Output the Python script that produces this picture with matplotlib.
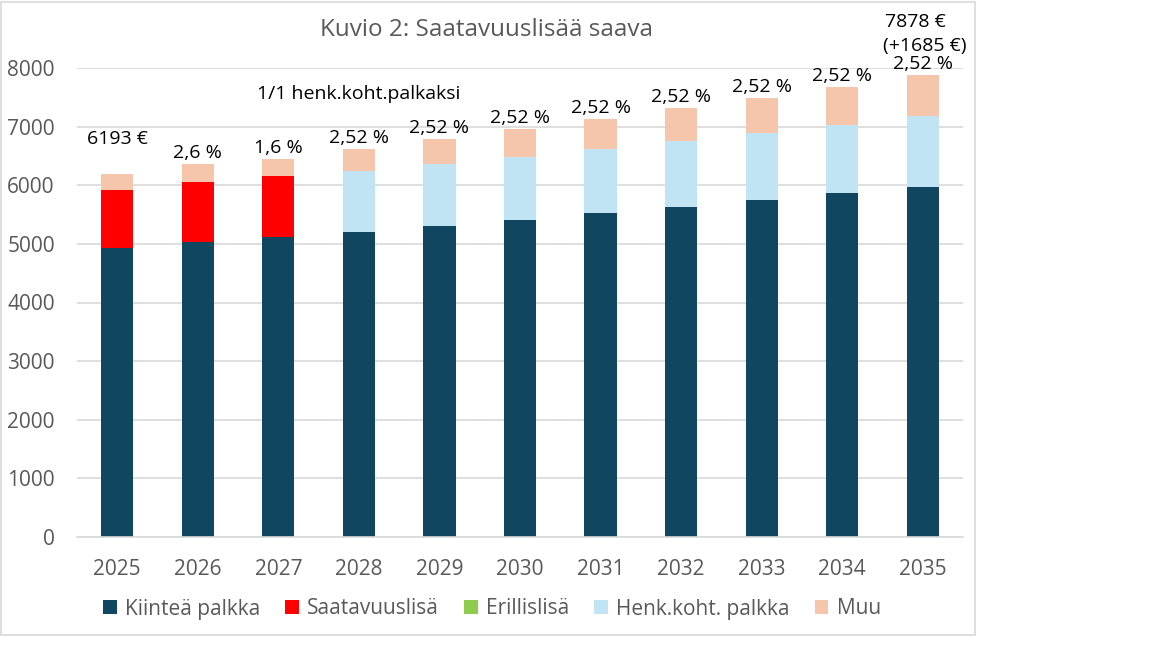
import numpy as np
import matplotlib
matplotlib.use("Agg")
import matplotlib.pyplot as plt
from matplotlib.patches import Rectangle

plt.rcParams['font.family'] = ['Open Sans', 'DejaVu Sans']

years = ['2025', '2026', '2027', '2028', '2029', '2030', '2031', '2032', '2033', '2034', '2035']
kiintea = [4930, 5040, 5125, 5200, 5310, 5410, 5525, 5635, 5750, 5865, 5975]
saatavuus = [990, 1015, 1030, 0, 0, 0, 0, 0, 0, 0, 0]
erillis = [0, 0, 0, 0, 0, 0, 0, 0, 0, 0, 0]
henk = [0, 0, 0, 1035, 1055, 1080, 1100, 1125, 1140, 1165, 1200]
muu = [273, 299, 301, 384, 421, 467, 507, 552, 606, 654, 703]
labels = ['6193 €', '2,6 %', '1,6 %', '2,52 %', '2,52 %', '2,52 %', '2,52 %',
          '2,52 %', '2,52 %', '2,52 %', '2,52 %']

series = [('Kiinteä palkka', kiintea, '#10465F'),
          ('Saatavuuslisä', saatavuus, '#FF0000'),
          ('Erillislisä', erillis, '#8FCB4F'),
          ('Henk.koht. palkka', henk, '#C1E4F5'),
          ('Muu', muu, '#F6C6AC')]

GREY = '#595959'

fig = plt.figure(figsize=(11.52, 6.48), dpi=100)
ax = fig.add_axes([77 / 1152, 1 - 537 / 648, 886 / 1152, 469 / 648])

x = np.arange(len(years))
bottom = np.zeros(len(years))
for name, vals, col in series:
    ax.bar(x, vals, 0.4, bottom=bottom, color=col, label=name, zorder=2)
    bottom += np.array(vals)

# data labels above each stack
for i, lab in enumerate(labels):
    off = 35 if i == 0 else 11
    ax.annotate(lab, (x[i], bottom[i]), xytext=(0, off), textcoords='offset pixels',
                ha='center', va='center', fontsize=14, color='black')
ax.annotate('1/1 henk.koht.palkaksi', (x[3], bottom[3]), xytext=(0, 55),
            textcoords='offset pixels', ha='center', va='center', fontsize=14)
ax.annotate('7878 €', (x[10], bottom[10]), xytext=(-38, 53), textcoords='offset pixels',
            ha='left', va='center', fontsize=14, annotation_clip=False)
ax.annotate('(+1685 €)', (x[10], bottom[10]), xytext=(-40, 29), textcoords='offset pixels',
            ha='left', va='center', fontsize=14, annotation_clip=False)

ax.set_xlim(-0.5, len(years) - 0.5)
ax.set_ylim(0, 8000)
ax.set_yticks(np.arange(0, 8001, 1000))
ax.set_xticks(x)
ax.set_xticklabels(years)
ax.tick_params(length=0, labelsize=15, labelcolor=GREY)
ax.tick_params(axis='x', pad=16)
ax.tick_params(axis='y', pad=16)
ax.grid(axis='y', color='#D9D9D9', linewidth=1.2, zorder=0)
for s in ['top', 'right', 'left']:
    ax.spines[s].set_visible(False)
ax.spines['bottom'].set_color('#D9D9D9')
ax.spines['bottom'].set_linewidth(1.2)

fig.text(487 / 1152, 1 - 30 / 648, 'Kuvio 2: Saatavuuslisää saava', ha='center', va='center',
         fontsize=17.5, color=GREY)

leg = fig.legend(loc='center', bbox_to_anchor=(492 / 1152, 1 - 609 / 648), ncol=5,
                 frameon=False, fontsize=15, handlelength=0.65, handleheight=0.65,
                 handletextpad=0.4, columnspacing=1.2)
for t in leg.get_texts():
    t.set_color(GREY)

fig.patches.append(Rectangle((1 / 1152, 1 - 635 / 648), 974 / 1152, 633 / 648,
                             transform=fig.transFigure, fill=False,
                             edgecolor='#D9D9D9', linewidth=1.2))

fig.savefig('out.png', dpi=100)
